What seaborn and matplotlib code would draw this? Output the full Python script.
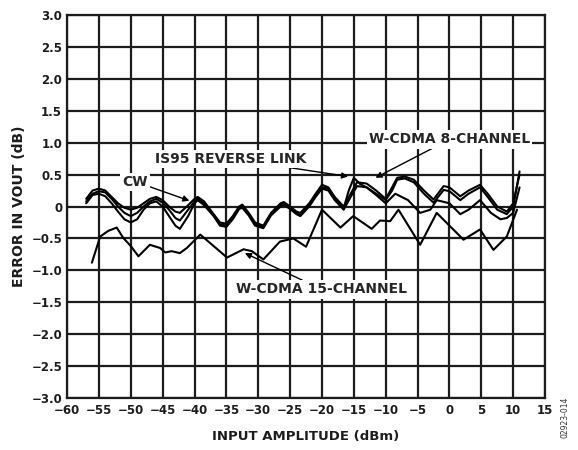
import matplotlib
matplotlib.use("Agg")
import matplotlib.pyplot as plt
import seaborn as sns

# Error in VOUT vs input amplitude for four input signal types
wcdma8_x = [-57, -56, -55, -54, -53, -52, -51, -50, -49, -48, -47, -46, -45, -44, -43, -42.3,
            -41, -40, -39.5, -38.5, -37, -36, -35, -34, -33, -32.5, -31.5, -30.5, -29.2, -28,
            -26.5, -26, -25, -24, -23.4, -22, -21, -20, -19, -18, -16.6, -15.5, -14.5, -13,
            -11.5, -10, -9, -8.2, -7, -5.6, -4, -2.5, -0.9, 0, 1.7, 3, 4.8, 6, 7.5, 9, 10, 11]
wcdma8_y = [0.12, 0.25, 0.28, 0.25, 0.15, 0.05, -0.02, -0.05, -0.02, 0.05, 0.12, 0.15, 0.1, 0.0,
            -0.08, -0.1, 0.02, 0.12, 0.15, 0.08, -0.12, -0.25, -0.27, -0.15, 0.0, 0.03, -0.1,
            -0.25, -0.3, -0.1, 0.05, 0.07, 0.0, -0.08, -0.1, 0.05, 0.2, 0.34, 0.3, 0.15, 0.0,
            0.2, 0.38, 0.36, 0.25, 0.12, 0.3, 0.45, 0.47, 0.42, 0.25, 0.11, 0.32, 0.3, 0.16,
            0.25, 0.34, 0.2, 0.0, -0.08, 0.05, 0.5]

is95_x = [-57, -56, -55, -54, -53, -52, -51, -50, -49, -48, -47, -46, -45, -44, -43, -42.3,
          -41, -40, -39.5, -38.5, -37, -36, -35, -34, -33, -32.5, -31.5, -30.5, -29.2, -28,
          -26.5, -26, -25, -24, -23.4, -22, -21, -20, -19, -18, -16.6, -15.8, -15, -14, -13,
          -11.5, -10, -9, -8.2, -7, -5.6, -4, -2.5, -0.9, 0, 1.7, 3, 4.8, 6, 7.5, 9, 10, 11]
is95_y = [0.08, 0.2, 0.24, 0.22, 0.12, 0.0, -0.1, -0.15, -0.1, 0.0, 0.08, 0.12, 0.06, -0.05,
          -0.18, -0.22, -0.05, 0.08, 0.12, 0.05, -0.14, -0.28, -0.3, -0.18, -0.02, 0.0, -0.12,
          -0.28, -0.32, -0.12, 0.02, 0.05, -0.02, -0.1, -0.13, 0.02, 0.18, 0.3, 0.28, 0.12,
          -0.03, 0.25, 0.45, 0.35, 0.3, 0.2, 0.1, 0.25, 0.42, 0.44, 0.38, 0.2, 0.06, 0.26, 0.24,
          0.1, 0.2, 0.3, 0.15, -0.05, -0.12, 0.0, 0.55]

cw_x = [-57, -56, -55, -54, -53, -52, -51, -50, -49, -48, -47, -46, -45, -44, -43, -42.3,
        -41, -40, -39.5, -38.5, -37, -36, -35, -34, -33, -32.5, -31.5, -30.5, -29.2, -28,
        -26.5, -26, -25, -24, -23.4, -22, -21, -20, -19, -18, -16.6, -15.5, -14.5, -13,
        -11.5, -10, -8.5, -6.5, -4.6, -3, -2, 0, 1.7, 3, 4.8, 6.5, 8, 9, 10, 11]
cw_y = [0.05, 0.18, 0.2, 0.16, 0.05, -0.08, -0.2, -0.25, -0.2, -0.05, 0.05, 0.08, 0.0, -0.15,
        -0.3, -0.35, -0.15, 0.05, 0.1, 0.02, -0.15, -0.3, -0.32, -0.2, -0.04, -0.02, -0.14,
        -0.3, -0.34, -0.14, 0.0, 0.03, -0.04, -0.12, -0.15, 0.0, 0.15, 0.28, 0.25, 0.1,
        -0.05, 0.15, 0.32, 0.3, 0.18, 0.05, 0.2, 0.1, -0.1, -0.05, 0.1, 0.05, -0.12, -0.05,
        0.1, -0.1, -0.2, -0.18, -0.1, 0.3]

wcdma15_x = [-56.1, -54.8, -53.5, -52.2, -51.2, -50, -48.8, -47, -45.4, -44.6, -43.6, -42.3,
             -41.2, -39.1, -37, -34.9, -32.3, -31, -29.2, -26.6, -24.5, -22.5, -20, -17.1,
             -15.1, -12.2, -10.9, -9.3, -8.0, -4.6, -2.0, 0, 2.2, 4.8, 6.9, 9.0, 10.6]
wcdma15_y = [-0.88, -0.47, -0.38, -0.33, -0.49, -0.62, -0.78, -0.6, -0.65, -0.72, -0.7, -0.73,
             -0.65, -0.44, -0.62, -0.8, -0.67, -0.7, -0.83, -0.55, -0.5, -0.63, -0.05, -0.33,
             -0.15, -0.35, -0.22, -0.23, -0.05, -0.6, -0.1, -0.3, -0.52, -0.36, -0.68, -0.47,
             -0.05]

x_ticks = list(range(-60, 16, 5))
x_ticklabels = ["−60", "−55", "−50", "−45", "−40", "−35", "−30", "−25", "−20", "−15",
                "−10", "−5", "0", "5", "10", "15"]
y_ticks = [3.0, 2.5, 2.0, 1.5, 1.0, 0.5, 0.0, -0.5, -1.0, -1.5, -2.0, -2.5, -3.0]
y_ticklabels = ["3.0", "2.5", "2.0", "1.5", "1.0", "0.5", "0", "−0.5", "−1.0", "−1.5",
                "−2.0", "−2.5", "−3.0"]

sns.set_style("white")
plt.rcParams["font.family"] = ["DejaVu Sans"]
INK = "#1c1c1c"

fig = plt.figure(figsize=(5.78, 4.5), dpi=100)
ax = fig.add_axes([0.116, 0.1156, 0.827, 0.851])

series = [(wcdma8_x, wcdma8_y), (is95_x, is95_y), (cw_x, cw_y), (wcdma15_x, wcdma15_y)]
for xs, ys in series:
    sns.lineplot(x=xs, y=ys, ax=ax, color="black", lw=1.5, estimator=None, sort=False,
                 zorder=4)

ax.set_xlim(-60, 15)
ax.set_ylim(-3.0, 3.0)
ax.set_xticks(x_ticks)
ax.set_xticklabels(x_ticklabels, fontsize=8.5, fontweight="bold", color=INK)
ax.set_yticks(y_ticks)
ax.set_yticklabels(y_ticklabels, fontsize=8.5, fontweight="bold", color=INK)
ax.tick_params(axis="y", length=0, pad=3.5)
ax.tick_params(axis="x", length=0, pad=4.5)
ax.grid(True, color=INK, lw=1.6)
ax.set_axisbelow(True)
for sp in ax.spines.values():
    sp.set_color(INK)
    sp.set_linewidth(1.6)

ax.set_xlabel("INPUT AMPLITUDE (dBm)", fontsize=9.5, fontweight="bold", color=INK,
              labelpad=9)
ax.set_ylabel("ERROR IN VOUT (dB)", fontsize=10, fontweight="bold", color=INK,
              labelpad=4)

box = dict(facecolor="white", edgecolor="none", pad=1.5)
arrow = dict(arrowstyle="-|>", color="black", lw=1.0, mutation_scale=9, shrinkA=0,
             shrinkB=0)
ax.annotate("CW", xy=(-40.8, 0.09), xytext=(-49.3, 0.39), fontsize=10, fontweight="bold",
            ha="center", va="center", bbox=box, arrowprops=arrow, zorder=3)
ax.annotate("IS95 REVERSE LINK", xy=(-15.9, 0.47), xytext=(-34.4, 0.75), fontsize=10,
            fontweight="bold", ha="center", va="center", bbox=box, arrowprops=arrow,
            zorder=3)
ax.annotate("W-CDMA 8-CHANNEL", xy=(-11.6, 0.45), xytext=(0.0, 1.05), fontsize=10,
            fontweight="bold", ha="center", va="center", bbox=box, arrowprops=arrow,
            zorder=3)
ax.annotate("W-CDMA 15-CHANNEL", xy=(-32.1, -0.73), xytext=(-20.0, -1.3), fontsize=10,
            fontweight="bold", ha="center", va="center", bbox=box, arrowprops=arrow,
            zorder=3)

fig.text(0.978, 0.072, "02923-014", rotation=90, fontsize=5.5, ha="center", va="center",
         color="#333333")

fig.savefig("out.png", dpi=100)
